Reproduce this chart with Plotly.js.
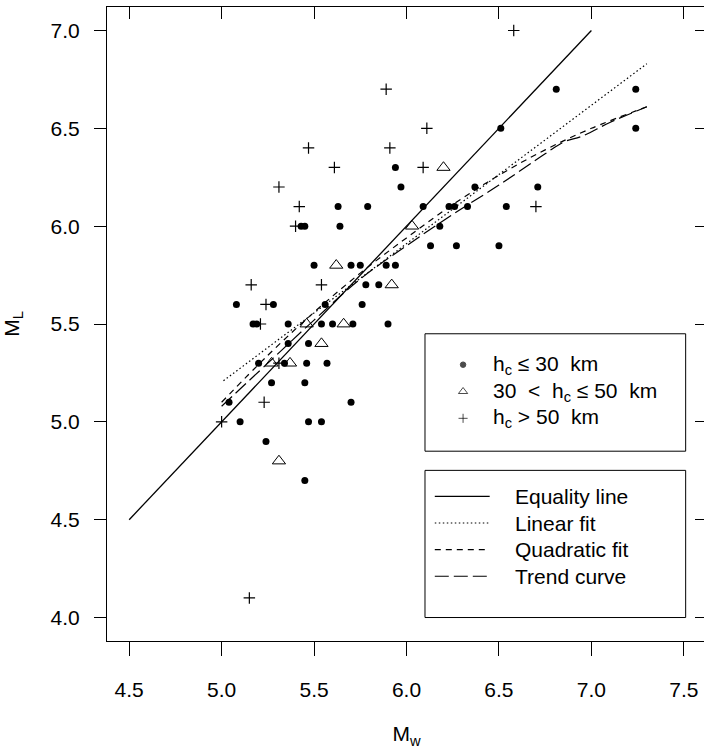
<!DOCTYPE html>
<html>
<head>
<meta charset="utf-8">
<script src="https://cdn.plot.ly/plotly-3.0.1.min.js"></script>
<style>
  html, body { margin: 0; padding: 0; overflow: hidden; background: #fff; }
  #chart { width: 708px; height: 752px; }
</style>
</head>
<body>
<div id="chart"></div>
<script>
// Local magnitude M_L against moment magnitude M_w, split by hypocentral depth h_c.

// h_c <= 30 km
const shallowMw = [6.81, 7.24, 6.51, 7.24, 5.94, 5.97, 6.37, 6.71,
  5.63, 5.79, 6.09, 6.23, 6.26, 6.33, 6.54,
  5.43, 5.45, 5.64, 6.18,
  6.13, 6.27, 6.50,
  5.50, 5.70, 5.75, 5.89, 5.94,
  5.78, 5.85,
  5.08, 5.28, 5.56, 5.76,
  5.17, 5.19, 5.36, 5.54, 5.60, 5.71, 5.90,
  5.36, 5.47,
  5.20, 5.34, 5.46, 5.57,
  5.27, 5.45,
  5.04, 5.70,
  5.10, 5.47, 5.54,
  5.24, 5.45];
const shallowML = [6.7, 6.7, 6.5, 6.5, 6.3, 6.2, 6.2, 6.2,
  6.1, 6.1, 6.1, 6.1, 6.1, 6.1, 6.1,
  6.0, 6.0, 6.0, 6.0,
  5.9, 5.9, 5.9,
  5.8, 5.8, 5.8, 5.8, 5.8,
  5.7, 5.7,
  5.6, 5.6, 5.6, 5.6,
  5.5, 5.5, 5.5, 5.5, 5.5, 5.5, 5.5,
  5.4, 5.4,
  5.3, 5.3, 5.3, 5.3,
  5.2, 5.2,
  5.1, 5.1,
  5.0, 5.0, 5.0,
  4.9, 4.7];

// 30 < h_c <= 50 km
const midMw = [6.20, 6.03, 5.62, 5.92, 5.46, 5.66, 5.54, 5.27, 5.37, 5.31];
const midML = [6.3, 6.0, 5.8, 5.7, 5.5, 5.5, 5.4, 5.3, 5.3, 4.8];

// h_c > 50 km
const deepMw = [6.58, 5.89, 6.11, 5.47, 5.91, 5.61, 6.09, 5.31, 5.42, 6.70,
  5.40, 5.16, 5.54, 5.24, 5.21, 5.31, 5.23, 5.00, 5.15];
const deepML = [7.0, 6.7, 6.5, 6.4, 6.4, 6.3, 6.3, 6.2, 6.1, 6.1,
  6.0, 5.7, 5.7, 5.6, 5.5, 5.3, 5.1, 5.0, 4.1];

// Reference and fitted relations
const equalityMw = [4.5, 7.0];
const equalityML = [4.5, 7.0];
const linearMw = [5.01, 7.30];
const linearML = [5.21, 6.83];
const quadMw = [5.00, 5.25, 5.50, 5.75, 6.00, 6.25, 6.50, 6.75, 7.00, 7.30];
const quadML = [5.10, 5.34, 5.56, 5.76, 5.94, 6.11, 6.26, 6.39, 6.50, 6.61];
const trendMw = [5.00, 5.25, 5.50, 5.75, 6.00, 6.25, 6.50, 6.75, 6.85, 6.95, 7.10, 7.30];
const trendML = [5.08, 5.30, 5.52, 5.73, 5.90, 6.06, 6.21, 6.37, 6.43, 6.46, 6.53, 6.61];

const tickVals = [4.0, 4.5, 5.0, 5.5, 6.0, 6.5, 7.0, 7.5];

const pointLabels = ['h<sub>c</sub> \u2264 30  km', '30  <  h<sub>c</sub> \u2264 50  km', 'h<sub>c</sub> > 50  km'];
const lineLabels = ['Equality line', 'Linear fit', 'Quadratic fit', 'Trend curve'];

const FONT = 'Liberation Sans, Arial, Helvetica, sans-serif';
const INK = '#000';

const dashLinear = '1.5px,2.5px';
const dashQuad = '6px,5px';
const dashTrend = '14px,5px';

const traces = [
  { x: equalityMw, y: equalityML, mode: 'lines', line: { color: INK, width: 1.3 }, hoverinfo: 'skip' },
  { x: linearMw, y: linearML, mode: 'lines', line: { color: INK, width: 1.2, dash: dashLinear } },
  { x: quadMw, y: quadML, mode: 'lines', line: { color: INK, width: 1.2, dash: dashQuad, shape: 'spline' } },
  { x: trendMw, y: trendML, mode: 'lines', line: { color: INK, width: 1.2, dash: dashTrend, shape: 'spline' } },
  { x: shallowMw, y: shallowML, mode: 'markers', marker: { symbol: 'circle', size: 7, color: INK } },
  { x: midMw, y: midML, mode: 'markers', marker: { symbol: 'triangle-up-open', size: 11.5, color: INK, line: { width: 1, color: INK } } },
  { x: deepMw, y: deepML, mode: 'markers', marker: { symbol: 'cross-thin-open', size: 8.2, color: INK, line: { width: 1.2, color: INK } } }
];

// Legend boxes (in axis units)
const box1 = { x0: 6.10, x1: 7.51, y0: 4.85, y1: 5.45 };
const box2 = { x0: 6.10, x1: 7.51, y0: 4.00, y1: 4.752 };
const rowStep1 = 0.137, rowStep2 = 0.136;
const keyX1 = box1.x0 + 0.206, textX1 = box1.x0 + 0.359;
const firstRow1 = box1.y1 - 0.158;
const lineX0 = box2.x0 + 0.053, lineX1 = box2.x0 + 0.350, textX2 = box2.x0 + 0.476;
const firstRow2 = box2.y1 - 0.133;

const keyRows1 = pointLabels.map((_, i) => firstRow1 - i * rowStep1);
const keyRows2 = lineLabels.map((_, i) => firstRow2 - i * rowStep2);

traces.push({
  x: keyRows1.map(() => keyX1), y: keyRows1, mode: 'markers', hoverinfo: 'skip',
  marker: { symbol: ['circle', 'triangle-up-open', 'cross-thin-open'], size: [5.5, 8, 6.5], color: INK,
            line: { width: 1, color: INK } }
});

const lineStyles = [
  { width: 1.3 }, { width: 1.1, dash: dashLinear }, { width: 1.1, dash: dashQuad }, { width: 1.1, dash: dashTrend }
];

const shapes = [
  { type: 'rect', xref: 'x', yref: 'y', x0: box1.x0, x1: box1.x1, y0: box1.y0, y1: box1.y1, line: { color: INK, width: 1 } },
  { type: 'rect', xref: 'x', yref: 'y', x0: box2.x0, x1: box2.x1, y0: box2.y0, y1: box2.y1, line: { color: INK, width: 1 } }
];
keyRows2.forEach((y, i) => {
  shapes.push({ type: 'line', xref: 'x', yref: 'y', x0: lineX0, x1: lineX1, y0: y, y1: y,
                line: Object.assign({ color: INK }, lineStyles[i]) });
});

const annotations = [];
pointLabels.forEach((t, i) => annotations.push({
  xref: 'x', yref: 'y', x: textX1, y: keyRows1[i], text: t, showarrow: false,
  xanchor: 'left', yanchor: 'middle', font: { family: FONT, size: 21, color: INK }
}));
lineLabels.forEach((t, i) => annotations.push({
  xref: 'x', yref: 'y', x: textX2, y: keyRows2[i], text: t, showarrow: false,
  xanchor: 'left', yanchor: 'middle', font: { family: FONT, size: 21, color: INK }
}));

const xr = [4.38, 7.62], yr = [3.88, 7.12];

const layout = {
  width: 708, height: 752,
  margin: { l: 107, r: 2, t: 7, b: 111 },
  paper_bgcolor: '#fff', plot_bgcolor: '#fff',
  showlegend: false,
  font: { family: FONT, size: 21, color: INK },
  xaxis: {
    range: xr, tickvals: tickVals, tickformat: '.1f',
    ticks: 'outside', ticklen: 14, tickwidth: 1, tickcolor: INK,
    showline: true, mirror: true, linecolor: INK, linewidth: 1,
    showgrid: false, zeroline: false, ticklabelstandoff: 16,
    tickfont: { family: FONT, size: 21, color: INK },
    title: { text: 'M<sub>w</sub>', font: { family: FONT, size: 21, color: INK }, standoff: 26 }
  },
  yaxis: {
    range: yr, tickvals: tickVals, tickformat: '.1f',
    ticks: 'outside', ticklen: 12, tickwidth: 1, tickcolor: INK,
    showline: true, mirror: true, linecolor: INK, linewidth: 1,
    showgrid: false, zeroline: false, ticklabelstandoff: 10,
    tickfont: { family: FONT, size: 21, color: INK },
    title: { text: 'M<sub>L</sub>', font: { family: FONT, size: 21, color: INK }, standoff: 31 }
  },
  xaxis2: {
    overlaying: 'x', side: 'top', anchor: 'y', range: xr, tickvals: tickVals,
    ticks: 'inside', ticklen: 12, tickwidth: 1, tickcolor: INK,
    showticklabels: false, showline: false, showgrid: false, zeroline: false
  },
  yaxis2: {
    overlaying: 'y', side: 'right', anchor: 'x', range: yr, tickvals: tickVals,
    ticks: 'inside', ticklen: 11, tickwidth: 1, tickcolor: INK,
    showticklabels: false, showline: false, showgrid: false, zeroline: false
  },
  shapes: shapes,
  annotations: annotations
};

// an empty trace so the mirrored tick axes are drawn
traces.push({ x: [], y: [], xaxis: 'x2', yaxis: 'y2', mode: 'markers', hoverinfo: 'skip' });

Plotly.newPlot('chart', traces, layout, { staticPlot: true, displayModeBar: false });
</script>
</body>
</html>
